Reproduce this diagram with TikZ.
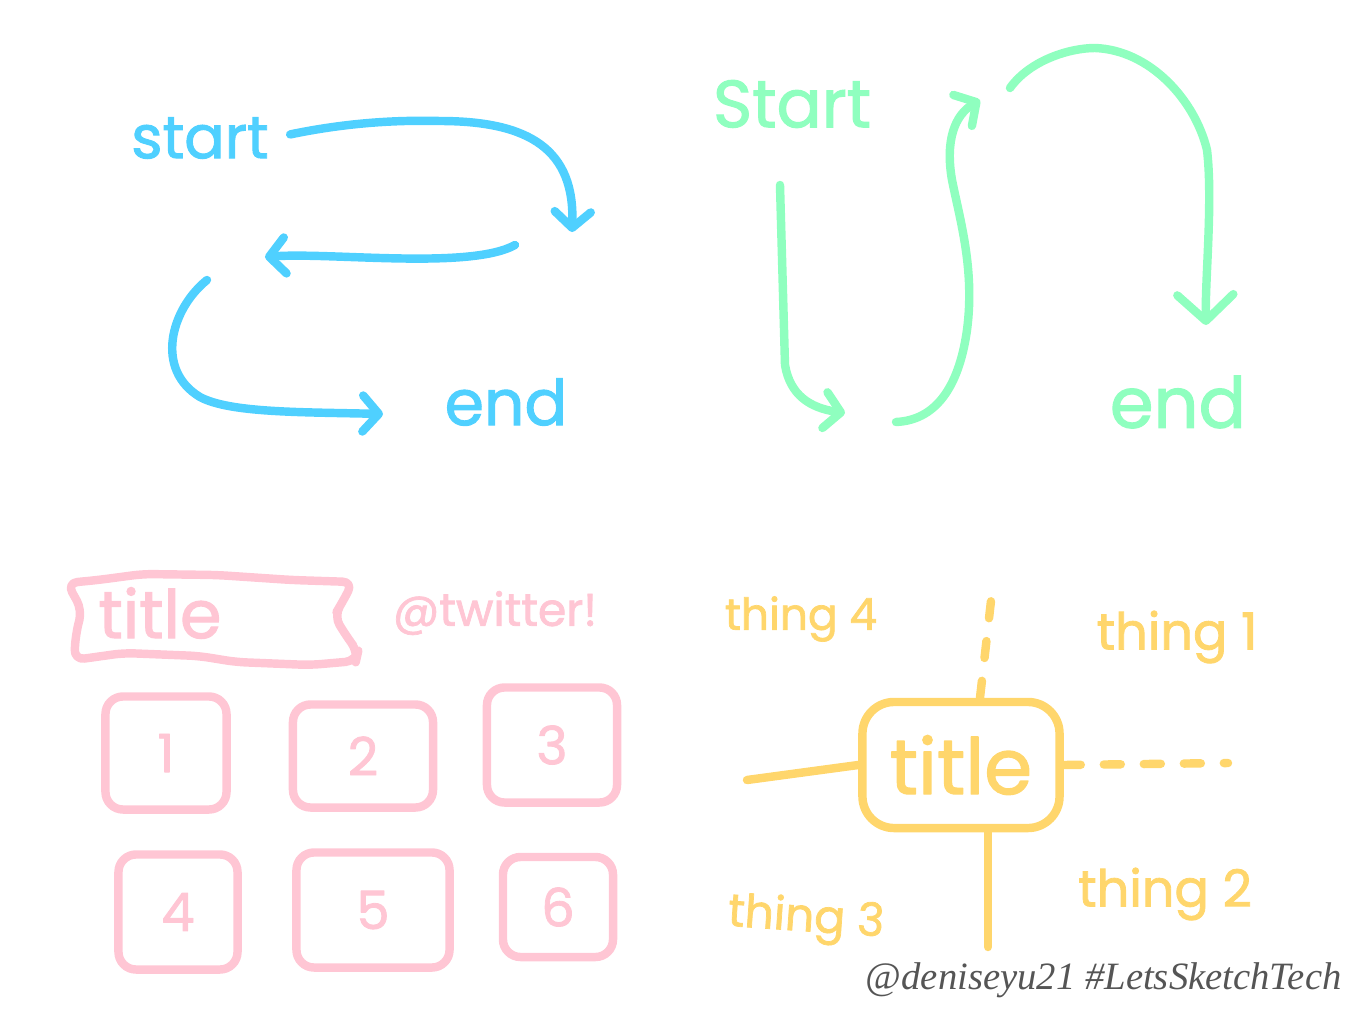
\documentclass[tikz,border=0pt]{standalone}
\usepackage{fontspec}
\newfontfamily\handfont{Poppins}[FakeBold=1.6]
\newfontfamily\signfont{Liberation Serif}
\usetikzlibrary{calc}
\usetikzlibrary{arrows.meta,positioning}

\definecolor{skyblue}{HTML}{4FD0FF}
\definecolor{mint}{HTML}{8FFFBF}
\definecolor{petal}{HTML}{FFC6D4}
\definecolor{butter}{HTML}{FFD66C}
\definecolor{signgray}{HTML}{555555}

\tikzset{
  pen/.style={line width=2.4pt,line cap=round,line join=round},
  bluepen/.style={pen,draw=skyblue},
  greenpen/.style={pen,draw=mint},
  pinkpen/.style={pen,draw=petal},
  yellowpen/.style={pen,draw=butter},
  hand/.style={font=\handfont\fontsize{#1}{#1}\selectfont,inner sep=1pt},
  smallbarb/.style={>={Straight Barb[length=1.6mm,width=3.6mm,round]}},
  bigbarb/.style={>={Straight Barb[length=2.6mm,width=5.6mm,round]}},
  pinkbox/.style={pinkpen,rounded corners=5pt,inner sep=0pt,outer sep=0pt,text=petal,hand=15},
  dashy/.style={dash pattern=on 0.17cm off 0.23cm}
}

\begin{document}
\begin{tikzpicture}[x=0.01cm,y=-0.01cm]

\useasboundingbox (0,0) rectangle (1372,1030);

%blue: start -> end, back and forth
\node[hand=17,text=skyblue] at (200,138) (bstart) {start};
\node[hand=18,text=skyblue] at (506,402) (bend) {end};
\coordinate (B1) at (572,232);
\coordinate (B2a) at (515,245);
\coordinate (B2b) at (265,257);
\coordinate (B3a) at (207,280);
\coordinate (B3b) at (383,414);

\draw[bluepen,smallbarb,arrows=->,shorten <=5pt] (bstart.east) .. controls (350,122) and (400,120) .. (440,121) .. controls (530,121) and (575,150) .. (B1);
\draw[bluepen,smallbarb,arrows=->] (B2a) .. controls (470,270) and (330,252) .. (B2b);
\draw[bluepen,smallbarb,arrows=->] (B3a) .. controls (170,310) and (155,370) .. (200,397) .. controls (230,413) and (300,412) .. (B3b);

%%%%%%%

%green: start -> end, up and over
\node[hand=19,text=mint] at (792,104) (gstart) {Start};
\node[hand=20,text=mint] at (1178,402) (gend) {end};
\coordinate (G1a) at (780,185);
\coordinate (G1b) at (845,413);
\coordinate (G2a) at (896,422);
\coordinate (G2b) at (980,100);
\coordinate (G3a) at (1010,88);
\coordinate (G3b) at (1206,325);

\draw[greenpen,smallbarb,arrows=->] (G1a) -- (785,365) .. controls (790,395) and (810,408) .. (G1b);
\draw[greenpen,smallbarb,arrows=->] (G2a) .. controls (940,420) and (960,380) .. (967,330) .. controls (975,270) and (960,220) .. (952,180) .. controls (945,140) and (955,115) .. (G2b);
\draw[greenpen,bigbarb,arrows=->] (G3a) .. controls (1030,60) and (1070,48) .. (1095,48) .. controls (1150,50) and (1195,100) .. (1207,150) .. controls (1213,200) and (1205,280) .. (G3b);

%%%%%%%

%pink: banner, handle and six boxes
\node[hand=19,text=petal] at (160,613) (ptitle) {title};
\draw[pinkpen,rounded corners=3pt] (67,583) -- (98,580) -- (143,574) -- (217,575) -- (292,580) -- (353,582) -- (342,603) -- (334,616) -- (347,637) -- (358,652) -- (356,661) -- (310,665) -- (236,662) -- (199,656) -- (124,653) -- (74,660) -- (76,633) -- (82,610) -- cycle;
\node[hand=13,text=petal] at (495,613) (handle) {@twitter!};

\node[pinkbox,minimum width=1.21cm,minimum height=1.13cm] at (166,753) (box1) {1};
\node[pinkbox,minimum width=1.40cm,minimum height=1.03cm] at (363,756) (box2) {2};
\node[pinkbox,minimum width=1.30cm,minimum height=1.15cm] at (552,745) (box3) {3};
\node[pinkbox,minimum width=1.19cm,minimum height=1.15cm] at (178,912) (box4) {4};
\node[pinkbox,minimum width=1.53cm,minimum height=1.15cm] at (373,910) (box5) {5};
\node[pinkbox,minimum width=1.10cm,minimum height=1.00cm] at (558,907) (box6) {6};

%%%%%%%

%yellow: title box with four things round it
\node[yellowpen,rounded corners=9pt,minimum width=1.97cm,minimum height=1.26cm,text=butter,hand=22,inner sep=0pt] at (961,765) (ytitle) {title};

\node[hand=12.5,text=butter] at (801,619) (thing4) {thing 4};
\node[hand=14.5,text=butter] at (1177,637) (thing1) {thing 1};
\node[hand=13,text=butter,rotate=-4] at (806,920) (thing3) {thing 3};
\node[hand=14.5,text=butter] at (1165,894) (thing2) {thing 2};

\coordinate (YL) at (747,780);
\coordinate (YR) at (1228,763);
\coordinate (YT) at (992,592);
\coordinate (YB) at (988,947);

\draw[yellowpen] (ytitle.west) -- (YL);
\draw[yellowpen,dashy] (ytitle.east) -- (YR);
\draw[yellowpen,dashy] (ytitle.north -| 980,0) -- (YT);
\draw[yellowpen] (ytitle.south -| YB) -- (YB);

%signature
\node[anchor=east,text=signgray,font=\signfont\itshape\fontsize{11}{13}\selectfont] at (1354,980) (sign) {@deniseyu21 \#LetsSketchTech};

\end{tikzpicture}
\end{document}
